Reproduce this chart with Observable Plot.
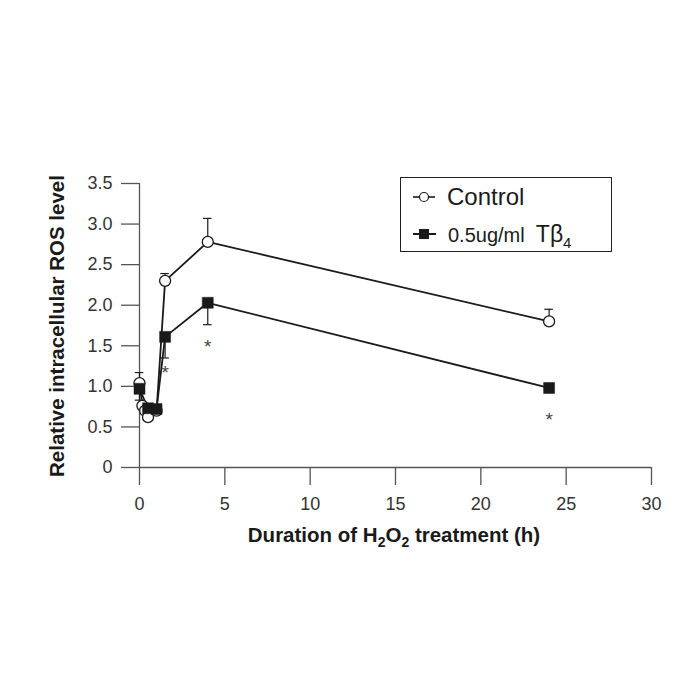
<!DOCTYPE html>
<html><head><meta charset="utf-8">
<script src="https://cdn.jsdelivr.net/npm/d3@7"></script>
<script src="https://cdn.jsdelivr.net/npm/@observablehq/plot@0.6"></script>
<style>
body{margin:0;background:#fff;}
#wrap{position:relative;width:700px;height:700px;font-family:"Liberation Sans",Arial,sans-serif;color:#1a1a1a;overflow:hidden;}
#wrap > svg{position:absolute;left:0;top:0;}
.ytitle{position:absolute;left:57px;top:326px;transform:translate(-50%,-50%) rotate(-90deg);white-space:nowrap;font-weight:bold;font-size:20.5px;}
.xtitle{position:absolute;left:394px;top:535px;transform:translate(-50%,-50%);white-space:nowrap;font-weight:bold;font-size:20.5px;}
.xtitle sub{font-size:14px;vertical-align:-5px;line-height:0;}
.legend{position:absolute;left:400px;top:177px;width:212px;height:75px;border:1.6px solid #222;box-sizing:border-box;}
.row{position:absolute;left:0;display:flex;align-items:center;white-space:nowrap;}
#wrap .row svg{position:static;display:block;}
.legend sub{font-size:15px;vertical-align:-6px;line-height:0;}
</style></head><body><div id="wrap"></div>
<script>
// Control series
const controlTime  = [0, 0.17, 0.33, 0.5, 1, 1.5, 4, 24];
const controlValue = [1.04, 0.76, 0.70, 0.62, 0.70, 2.30, 2.78, 1.80];
const controlErrTime = [0, 1, 1.5, 4, 24];
const controlErrHigh = [1.17, 0.77, 2.39, 3.07, 1.95];
// 0.5ug/ml Tβ4 series
const tb4Time  = [0, 0.5, 1, 1.5, 4, 24];
const tb4Value = [0.97, 0.73, 0.72, 1.61, 2.03, 0.98];
const tb4ErrTime = [0, 1.5, 4, 24];
const tb4ErrLow  = [0.83, 1.35, 1.76, 0.93];
// significance markers
const starTime  = [1.5, 4, 24];
const starValue = [1.21, 1.54, 0.64];
// ticks
const xTicks = [0, 5, 10, 15, 20, 25, 30];
const yTicks = [0, 0.5, 1, 1.5, 2, 2.5, 3, 3.5];
const capHalf = 0.25;

const control = controlTime.map((t, i) => ({t, v: controlValue[i]}));
const tb4 = tb4Time.map((t, i) => ({t, v: tb4Value[i]}));
const cErr = controlErrTime.map((t, i) => ({t, v: controlValue[controlTime.indexOf(t)], e: controlErrHigh[i]}));
const tErr = tb4ErrTime.map((t, i) => ({t, v: tb4Value[tb4Time.indexOf(t)], e: tb4ErrLow[i]}));
const stars = starTime.map((t, i) => ({t, v: starValue[i]}));

const ink = "#1a1a1a";
const axisInk = "#555";

const plot = Plot.plot({
  width: 700, height: 700,
  marginLeft: 139, marginRight: 49, marginTop: 183, marginBottom: 233,
  x: {domain: [0, 30]},
  y: {domain: [0, 3.5]},
  style: {fontFamily: "Liberation Sans, Arial, sans-serif", fontSize: "18px", color: "#333", background: "white"},
  marks: [
    Plot.axisX({ticks: xTicks, tickSize: 18, tickPadding: 12, label: null, stroke: axisInk, strokeWidth: 1.3, fill: "#333", fontSize: 18}),
    Plot.axisY({ticks: yTicks, tickSize: 18, tickPadding: 9, label: null, stroke: axisInk, strokeWidth: 1.3, fill: "#333", fontSize: 18,
      tickFormat: d => d === 0 ? "0" : d.toFixed(1)}),
    Plot.ruleY([0], {stroke: axisInk, strokeWidth: 1.3}),
    Plot.ruleX([0], {stroke: axisInk, strokeWidth: 1.3}),
    // error bars
    Plot.ruleX(cErr, {x: "t", y1: "v", y2: "e", stroke: ink, strokeWidth: 1.2}),
    Plot.ruleY(cErr, {y: "e", x1: d => d.t - capHalf, x2: d => d.t + capHalf, stroke: ink, strokeWidth: 1.2}),
    Plot.ruleX(tErr, {x: "t", y1: "v", y2: "e", stroke: ink, strokeWidth: 1.2}),
    Plot.ruleY(tErr, {y: "e", x1: d => d.t - capHalf, x2: d => d.t + capHalf, stroke: ink, strokeWidth: 1.2}),
    // lines
    Plot.line(control, {x: "t", y: "v", stroke: ink, strokeWidth: 1.8}),
    Plot.line(tb4, {x: "t", y: "v", stroke: ink, strokeWidth: 1.8}),
    // markers
    Plot.dot(control, {x: "t", y: "v", r: 5.5, fill: "white", stroke: ink, strokeWidth: 1.3}),
    Plot.dot(tb4, {x: "t", y: "v", symbol: "square", r: 6.2, fill: ink, stroke: ink, strokeWidth: 0.5}),
    // asterisks
    Plot.text(stars, {x: "t", y: "v", text: () => "*", fontSize: 19, dy: 4, fill: "#444"})
  ]
});

const wrap = document.getElementById("wrap");
wrap.appendChild(plot);

const yt = document.createElement("div");
yt.className = "ytitle";
yt.textContent = "Relative intracellular ROS level";
wrap.appendChild(yt);

const xt = document.createElement("div");
xt.className = "xtitle";
xt.innerHTML = "Duration of H<sub>2</sub>O<sub>2</sub> treatment (h)";
wrap.appendChild(xt);

const lg = document.createElement("div");
lg.className = "legend";
lg.innerHTML = `
<div class="row" style="top:5px;left:0px;font-size:24px;">
  <svg width="44" height="28"><line x1="12" y1="14" x2="34" y2="14" stroke="${ink}" stroke-width="1.6"/><circle cx="23" cy="14" r="4.5" fill="white" stroke="${ink}" stroke-width="1.2"/></svg>
  <span style="margin-left:2px">Control</span>
</div>
<div class="row" style="top:42px;left:0px;font-size:20px;">
  <svg width="44" height="28"><line x1="12" y1="14" x2="35" y2="14" stroke="${ink}" stroke-width="2"/><rect x="18" y="9" width="10" height="10" fill="${ink}"/></svg>
  <span style="margin-left:3px">0.5ug/ml&nbsp; <span style="font-size:23px">Tβ</span><sub>4</sub></span>
</div>`;
wrap.appendChild(lg);
</script>
</body></html>
